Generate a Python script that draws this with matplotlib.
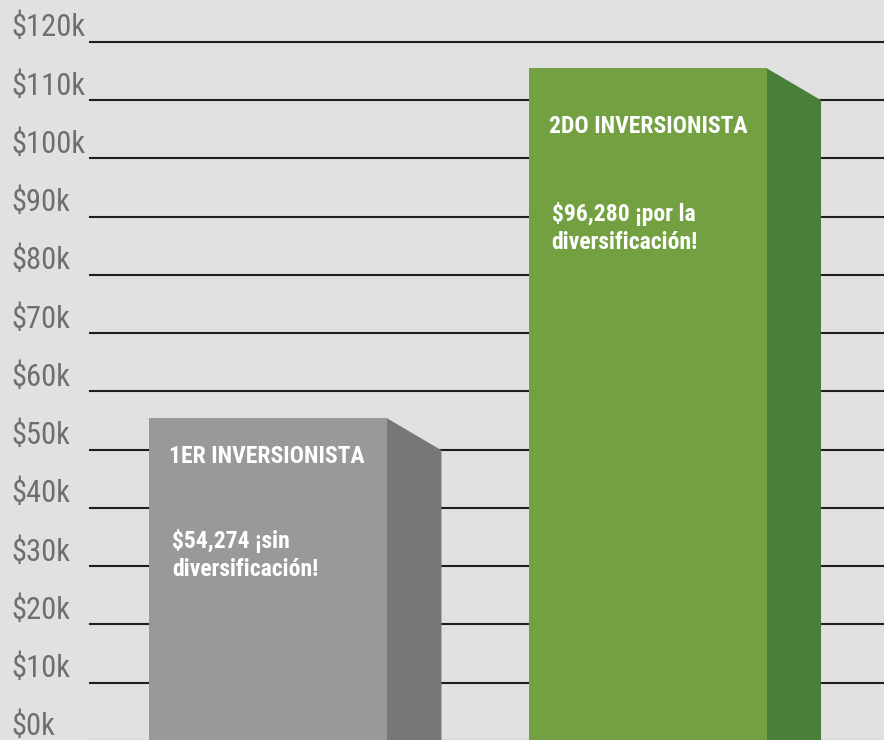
import matplotlib
matplotlib.use("Agg")
import matplotlib.pyplot as plt
from matplotlib import font_manager
from matplotlib.patches import Polygon

# datos (miles de dólares)
investors = ["1ER INVERSIONISTA", "2DO INVERSIONISTA"]
bar_values = [55.4, 115.5]
value_texts = ["$54,274 ¡sin\ndiversificación!", "$96,280 ¡por la\ndiversificación!"]
tick_values = list(range(0, 130, 10))
tick_labels = ["$%dk" % v for v in tick_values]

# estilo
bg = "#e1e1e1"
front_colors = ["#999999", "#73a141"]
side_colors = ["#777776", "#4a7f3a"]
label_color = "#6e6e6e"

# buscar una fuente estrecha instalada
available = set(f.name for f in font_manager.fontManager.ttflist)
candidates = ["Roboto Condensed", "Barlow Semi Condensed", "Archivo Narrow",
              "PT Sans Narrow", "Sofia Sans Condensed", "Encode Sans Condensed",
              "Liberation Sans Narrow"]
narrow_name = next((c for c in candidates if c in available), "DejaVu Sans")
narrow = [narrow_name, "DejaVu Sans"]

fig = plt.figure(figsize=(8.84, 7.4), dpi=100, facecolor=bg)
ax = fig.add_axes([0, 0, 1, 1])
ax.set_facecolor(bg)
ax.set_xlim(-0.706, 1.623)
ax.set_ylim(0.17, 127.2)
ax.axis("off")

# líneas de la cuadrícula + etiquetas del eje
for v, lab in zip(tick_values, tick_labels):
    ax.axhline(v, xmin=90 / 884, xmax=1, color="#1e1e1e", lw=1.5, zorder=1)
    ax.annotate(lab, xy=(0.013, v), xycoords=("axes fraction", "data"),
                xytext=(0, 4), textcoords="offset points",
                ha="left", va="baseline", fontsize=22, color=label_color,
                family=narrow, fontweight="normal")

width = 0.627
depth_x = 0.1436
depth_y = 5.5
x = [0, 1]

ax.bar(x, bar_values, width=width, bottom=0, color=front_colors, zorder=3)
for xi, v, c in zip(x, bar_values, side_colors):
    xr = xi + width / 2
    side = Polygon([(xr, v), (xr + depth_x, v - depth_y), (xr + depth_x, -5), (xr, -5)],
                   closed=True, facecolor=c, edgecolor="none", zorder=2.5)
    ax.add_patch(side)

# textos dentro de las barras
title_y = [48.9, 105.4]
text_y = [33.6, 89.8]
for xi, name, txt, ty, vy in zip(x, investors, value_texts, title_y, text_y):
    xl = xi - width / 2 + 0.053
    ax.text(xl, ty, name, ha="left", va="center", color="white",
            fontsize=17, fontweight="bold", family=narrow, zorder=4)
    ax.text(xl + 0.008, vy + 2.8, txt, ha="left", va="top", color="white",
            fontsize=17, fontweight="bold", family=narrow, zorder=4,
            linespacing=1.3)

fig.savefig("out.png", dpi=100, facecolor=bg)
